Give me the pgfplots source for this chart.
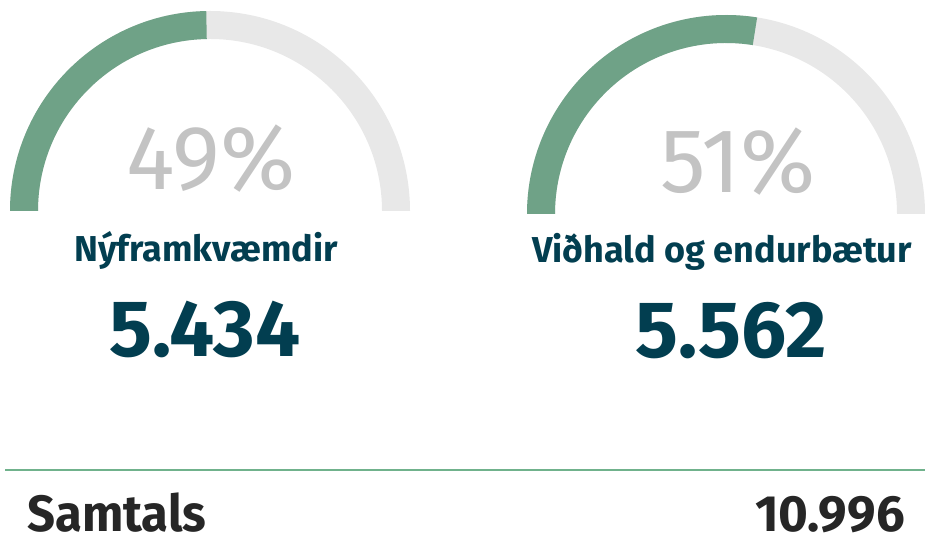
\documentclass[border=0pt]{standalone}
\usepackage{fontspec}
\setmainfont{Fira Sans}
\newfontfamily\condfont[FakeStretch=0.96]{Fira Sans}
\usepackage{pgfplots}
\pgfplotsset{compat=1.18}
\usepackage{pgfplotstable}

\definecolor{gaugegreen}{RGB}{111,162,135}
\definecolor{gaugegray}{RGB}{232,232,232}
\definecolor{pctgray}{RGB}{195,195,195}
\definecolor{teal}{RGB}{2,62,80}
\definecolor{totalgray}{RGB}{38,38,38}
\definecolor{rulegreen}{RGB}{112,178,140}

% gauge: centre x, base y, outer/inner radius, filled share of the half circle
\pgfplotstableread{
cx  cy  R   r   share pct amount
210 345 200 172 0.494 49  5.434
726 342 199 171 0.550 51  5.562
}\gauges

\newcommand{\gauge}[1]{%
  \pgfplotstablegetelem{#1}{cx}\of\gauges \edef\gcx{\pgfplotsretval}%
  \pgfplotstablegetelem{#1}{cy}\of\gauges \edef\gcy{\pgfplotsretval}%
  \pgfplotstablegetelem{#1}{R}\of\gauges \edef\gR{\pgfplotsretval}%
  \pgfplotstablegetelem{#1}{r}\of\gauges \edef\gr{\pgfplotsretval}%
  \pgfplotstablegetelem{#1}{share}\of\gauges \edef\gs{\pgfplotsretval}%
  \pgfmathsetmacro\gang{180-180*\gs}%
  \pgfmathsetmacro\gRx{\gcx+\gR}\pgfmathsetmacro\grx{\gcx-\gr}%
  \pgfmathsetmacro\gRl{\gcx-\gR}%
  \edef\gtmp{\noexpand\fill[gaugegray] (axis cs:\gRx,\gcy) arc[start angle=0,end angle=180,radius=\gR pt] -- (axis cs:\grx,\gcy) arc[start angle=180,end angle=0,radius=\gr pt] -- cycle;}\gtmp
  \edef\gtmp{\noexpand\fill[gaugegreen] (axis cs:\gRl,\gcy) arc[start angle=180,end angle=\gang,radius=\gR pt] -- ++(\gang+180:\gR pt-\gr pt) arc[start angle=\gang,end angle=180,radius=\gr pt] -- cycle;}\gtmp
}

\begin{document}
\begin{tikzpicture}
\path[use as bounding box] (0,0) rectangle (925pt,556pt);
\begin{axis}[
  at={(0,0)}, anchor=south west,
  width=925pt, height=556pt, scale only axis,
  xmin=0, xmax=925, ymin=0, ymax=556,
  hide axis, clip=false,
]
  \gauge{0}
  \gauge{1}

  \node[anchor=base, text=pctgray, font=\fontsize{91}{91}\selectfont] at (axis cs:211,366) {49\%};
  \node[anchor=base, text=pctgray, font=\fontsize{91}{91}\selectfont] at (axis cs:738,363) {51\%};

  \node[anchor=base, text=teal, font=\bfseries\fontsize{36}{36}\selectfont] at (axis cs:206,294) {Nýframkvæmdir};
  \node[anchor=base, text=teal, font=\bfseries\fontsize{36}{36}\selectfont] at (axis cs:722,293) {Viðhald og endurbætur};

  \node[anchor=base, text=teal, font=\bfseries\fontsize{80}{80}\selectfont] at (axis cs:205,199) {5.434};
  \node[anchor=base, text=teal, font=\bfseries\fontsize{80}{80}\selectfont] at (axis cs:731,198) {5.562};

  \draw[rulegreen, line width=1.3pt] (axis cs:5,86) -- (axis cs:925,86);

  \node[anchor=base west, inner sep=0pt, text=totalgray, font=\condfont\bfseries\fontsize{51}{51}\selectfont] at (axis cs:27,24) {Samtals};
  \node[anchor=base east, inner sep=0pt, text=totalgray, font=\bfseries\fontsize{51}{51}\selectfont] at (axis cs:905,24) {10.996};
\end{axis}
\end{tikzpicture}
\end{document}
